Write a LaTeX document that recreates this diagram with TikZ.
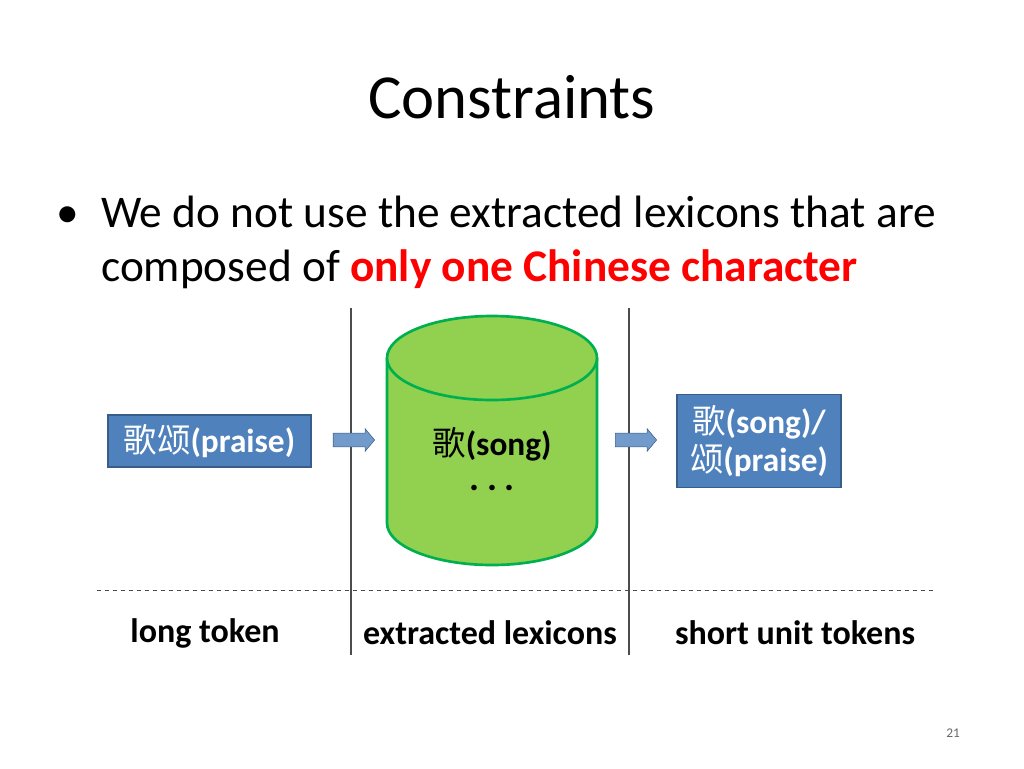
\documentclass[tikz,border=0pt]{standalone}
\usepackage{fontspec}
\setmainfont{Carlito}
\newfontfamily\cjk{Noto Sans CJK SC}
\usetikzlibrary{shapes.arrows}
\definecolor{boxblue}{HTML}{4F81BD}
\definecolor{boxedge}{HTML}{385D8A}
\definecolor{cylgreen}{HTML}{92D050}
\definecolor{cyledge}{HTML}{00B050}
\begin{document}
\begin{tikzpicture}[x=0.75pt,y=-0.75pt,
  bluebox/.style={draw=boxedge,line width=1.2pt,fill=boxblue,text=white,font=\fontsize{25}{29}\selectfont\bfseries,align=center,inner sep=0pt},
  barrow/.style={single arrow,draw=boxedge,fill=boxblue!80,minimum width=17pt,minimum height=31pt,single arrow head extend=2pt,single arrow tip angle=100,inner sep=3pt},
  lbl/.style={font=\fontsize{25.5}{30}\selectfont\bfseries}]
\useasboundingbox (0,0) rectangle (1024,768);
\node (title) at (512,97) {\fontsize{47}{54}\selectfont Constraints};
\node[anchor=base west,inner sep=0pt] (b) at (56,227) {\fontsize{34}{40}\selectfont •};
\node[anchor=base west,inner sep=0pt] (l1) at (101,227) {\fontsize{34}{40}\selectfont We do not use the extracted lexicons that are};
\node[anchor=base west,inner sep=0pt] (l2) at (101,281) {\fontsize{34}{40}\selectfont composed of \textcolor{red}{\bfseries only one Chinese character}};
% lines
\draw[black!70,line width=0.8pt] (351,308) -- (351,655);
\draw[black!70,line width=0.8pt] (629,308) -- (629,655);
\draw[black!70,dashed,line width=0.6pt] (97,590) -- (935,590);
% cylinder
\draw[cyledge,line width=2pt,fill=cylgreen] (387,358) -- (387,523) arc[start angle=180,end angle=0,x radius=105,y radius=42] -- (597,358);
\draw[cyledge,line width=2pt,fill=cylgreen] (492,358) ellipse[x radius=105,y radius=42];
\node[font=\fontsize{25}{29}\selectfont\bfseries] (song) at (492,444) {{\cjk\mdseries 歌}(song)};
\node[font=\fontsize{28}{30}\selectfont\bfseries,anchor=base] (dots) at (492,490) {.\hspace{6pt}.\hspace{6pt}.};
% boxes
\node[bluebox,minimum width=152pt,minimum height=39pt] (long) at (209.5,441) {{\cjk\mdseries 歌颂}(praise)};
\node[bluebox,minimum width=123pt,minimum height=70pt] (short) at (759,441) {{\cjk\mdseries 歌}(song)/\\{\cjk\mdseries 颂}(praise)};
\node[barrow] (a1) at (351,440) {};
\node[barrow] (a2) at (633,440) {};
% labels
\node[lbl] (t1) at (205,633) {long token};
\node[lbl] (t2) at (490,633) {extracted lexicons};
\node[lbl] (t3) at (795,633) {short unit tokens};
\node[text=black!60,font=\fontsize{10}{12}\selectfont] (pg) at (953,733) {21};
\end{tikzpicture}
\end{document}
